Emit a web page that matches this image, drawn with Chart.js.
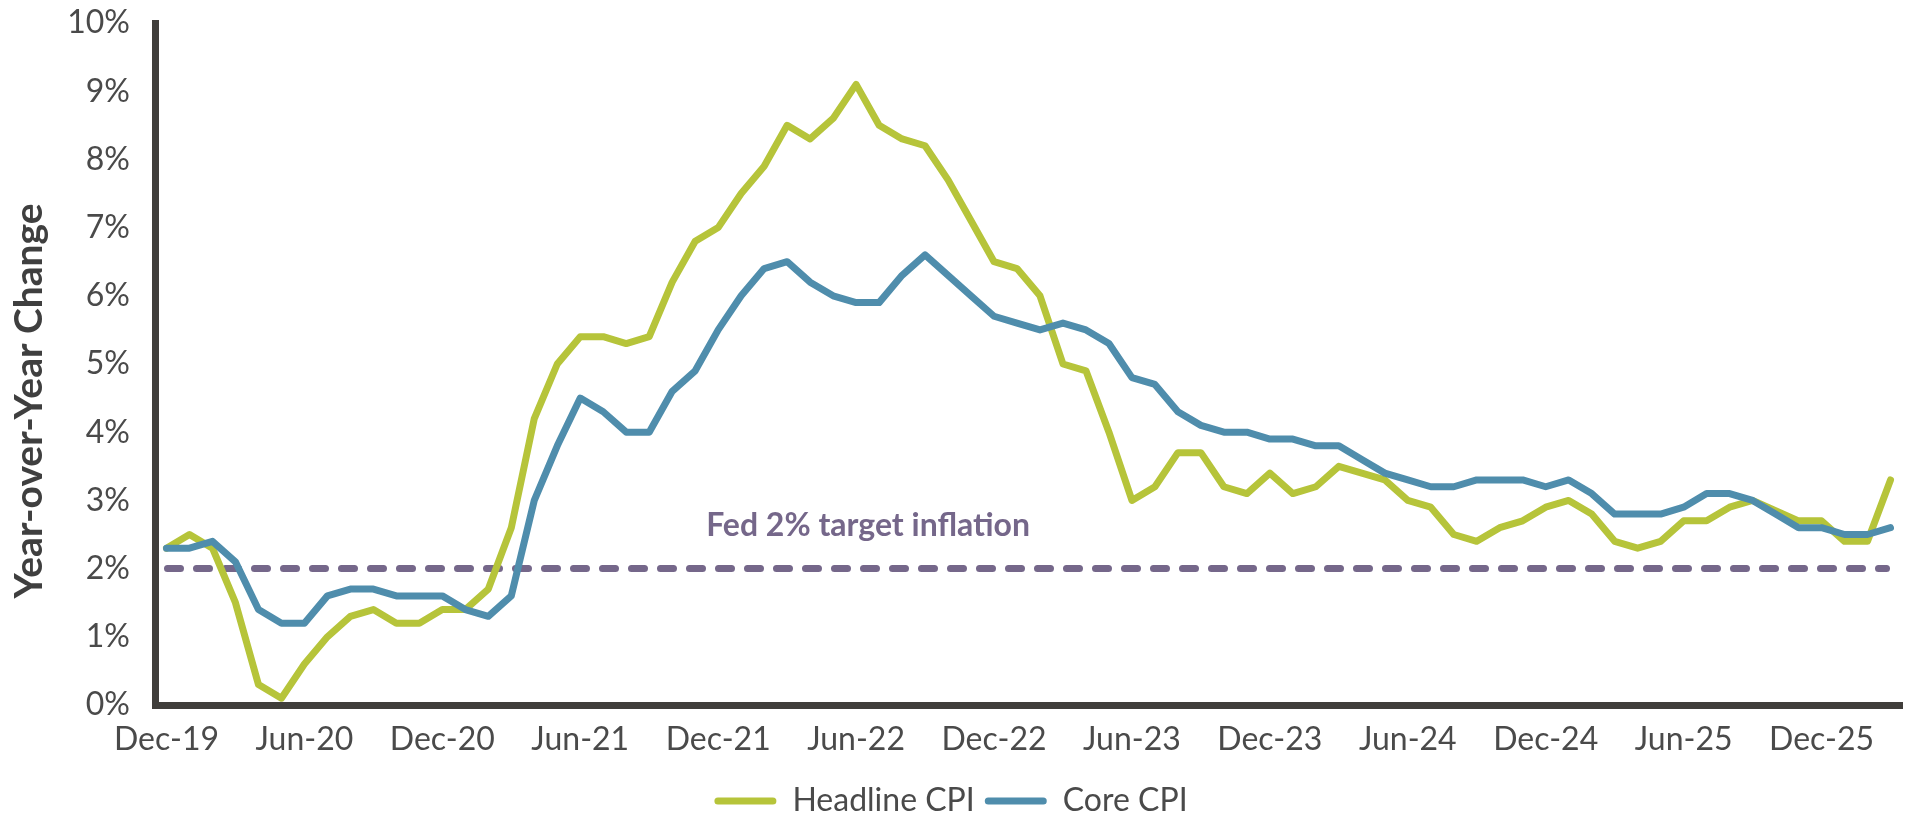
<!DOCTYPE html>
<html>
<head>
<meta charset="utf-8">
<title>Headline vs Core CPI</title>
<script src="https://cdn.jsdelivr.net/npm/chart.js@4.4.1/dist/chart.umd.min.js"></script>
<style>
  html, body { margin: 0; padding: 0; background: #fff; }
  #wrap { width: 1906px; height: 815px; }
</style>
</head>
<body>
<div id="wrap"><canvas id="cpiChart" width="1906" height="815"></canvas></div>
<script>
// monthly categories, Dec-19 through Mar-26
const months = [
  "Dec-19",
  "Jan-20", "Feb-20", "Mar-20", "Apr-20", "May-20", "Jun-20", "Jul-20", "Aug-20", "Sep-20", "Oct-20", "Nov-20", "Dec-20",
  "Jan-21", "Feb-21", "Mar-21", "Apr-21", "May-21", "Jun-21", "Jul-21", "Aug-21", "Sep-21", "Oct-21", "Nov-21", "Dec-21",
  "Jan-22", "Feb-22", "Mar-22", "Apr-22", "May-22", "Jun-22", "Jul-22", "Aug-22", "Sep-22", "Oct-22", "Nov-22", "Dec-22",
  "Jan-23", "Feb-23", "Mar-23", "Apr-23", "May-23", "Jun-23", "Jul-23", "Aug-23", "Sep-23", "Oct-23", "Nov-23", "Dec-23",
  "Jan-24", "Feb-24", "Mar-24", "Apr-24", "May-24", "Jun-24", "Jul-24", "Aug-24", "Sep-24", "Oct-24", "Nov-24", "Dec-24",
  "Jan-25", "Feb-25", "Mar-25", "Apr-25", "May-25", "Jun-25", "Jul-25", "Aug-25", "Sep-25", "Oct-25", "Nov-25", "Dec-25",
  "Jan-26", "Feb-26", "Mar-26"
];

const headlineCpi = [
  2.3,
  2.5, 2.3, 1.5, 0.3, 0.1, 0.6, 1.0, 1.3, 1.4, 1.2, 1.2, 1.4,
  1.4, 1.7, 2.6, 4.2, 5.0, 5.4, 5.4, 5.3, 5.4, 6.2, 6.8, 7.0,
  7.5, 7.9, 8.5, 8.3, 8.6, 9.1, 8.5, 8.3, 8.2, 7.7, 7.1, 6.5,
  6.4, 6.0, 5.0, 4.9, 4.0, 3.0, 3.2, 3.7, 3.7, 3.2, 3.1, 3.4,
  3.1, 3.2, 3.5, 3.4, 3.3, 3.0, 2.9, 2.5, 2.4, 2.6, 2.7, 2.9,
  3.0, 2.8, 2.4, 2.3, 2.4, 2.7, 2.7, 2.9, 3.0, 2.85, 2.7, 2.7,
  2.4, 2.4, 3.3
];

const coreCpi = [
  2.3,
  2.3, 2.4, 2.1, 1.4, 1.2, 1.2, 1.6, 1.7, 1.7, 1.6, 1.6, 1.6,
  1.4, 1.3, 1.6, 3.0, 3.8, 4.5, 4.3, 4.0, 4.0, 4.6, 4.9, 5.5,
  6.0, 6.4, 6.5, 6.2, 6.0, 5.9, 5.9, 6.3, 6.6, 6.3, 6.0, 5.7,
  5.6, 5.5, 5.6, 5.5, 5.3, 4.8, 4.7, 4.3, 4.1, 4.0, 4.0, 3.9,
  3.9, 3.8, 3.8, 3.6, 3.4, 3.3, 3.2, 3.2, 3.3, 3.3, 3.3, 3.2,
  3.3, 3.1, 2.8, 2.8, 2.8, 2.9, 3.1, 3.1, 3.0, 2.8, 2.6, 2.6,
  2.5, 2.5, 2.6
];

// only every sixth month gets a label on the x axis
const xTickLabels = [
  "Dec-19", "Jun-20", "Dec-20", "Jun-21", "Dec-21", "Jun-22", "Dec-22",
  "Jun-23", "Dec-23", "Jun-24", "Dec-24", "Jun-25", "Dec-25"
];

const fedTarget = 2;
const fedTargetText = "Fed 2% target inflation";
const fedTextAt = "Jun-22"; // category the annotation text sits over
const yTitle = "Year-over-Year Change";

const GREEN = "#b6c43a";
const BLUE = "#4f8dac";
const PURPLE = "#75678a";
const AXIS = "#403e3b";
const TEXT = "#4a4a4a";
const FONT = "Lato";

// dashed 2% line + its label, and the rotated y-axis title
const annotations = {
  id: "annotations",
  beforeDatasetsDraw(chart) {
    const { ctx, scales, chartArea } = chart;
    const yPix = scales.y.getPixelForValue(fedTarget);
    const x0 = scales.x.getPixelForValue(0);
    const x1 = scales.x.getPixelForValue(months.length - 1);

    ctx.save();
    ctx.strokeStyle = PURPLE;
    ctx.lineWidth = 7;
    ctx.lineCap = "round";
    ctx.setLineDash([13, 16]);
    ctx.beginPath();
    ctx.moveTo(x0 + 1, yPix);
    ctx.lineTo(x1 - 4, yPix);
    ctx.stroke();

    ctx.setLineDash([]);
    ctx.font = "bold 32px " + FONT;
    ctx.fillStyle = PURPLE;
    ctx.textAlign = "center";
    ctx.textBaseline = "alphabetic";
    ctx.fillText(fedTargetText, scales.x.getPixelForValue(months.indexOf(fedTextAt)) + 12, yPix - 33);

    // axis title, sitting a little below the middle of the plot like the original
    ctx.translate(29, (chartArea.top + chartArea.bottom) / 2 + 37);
    ctx.rotate(-Math.PI / 2);
    ctx.font = "bold 39px " + FONT;
    ctx.fillStyle = "#3f3f3f";
    ctx.textBaseline = "middle";
    ctx.fillText(yTitle, 0, 0);
    ctx.restore();
  },
};

function draw() {
  const ctx = document.getElementById("cpiChart").getContext("2d");

  new Chart(ctx, {
    type: "line",
    data: {
      labels: months,
      datasets: [
        {
          label: "Headline CPI",
          data: headlineCpi,
          borderColor: GREEN,
          backgroundColor: GREEN,
          borderWidth: 7,
          order: 2,
        },
        {
          label: "Core CPI",
          data: coreCpi,
          borderColor: BLUE,
          backgroundColor: BLUE,
          borderWidth: 7,
          order: 1,
        },
      ],
    },
    options: {
      responsive: false,
      animation: false,
      devicePixelRatio: 1,
      layout: { padding: { top: 23, right: 4, left: 0, bottom: -12 } },
      elements: {
        point: { radius: 0, hoverRadius: 0 },
        line: { tension: 0, borderCapStyle: "round", borderJoinStyle: "round" },
      },
      scales: {
        x: {
          offset: true,
          grid: { display: false, drawTicks: false, offset: true },
          border: { display: true, width: 7, color: AXIS },
          ticks: {
            autoSkip: false,
            maxRotation: 0,
            padding: 15,
            color: TEXT,
            font: { family: FONT, size: 32 },
            callback: function (value) {
              const lab = this.getLabelForValue(value);
              return xTickLabels.includes(lab) ? lab : "";
            },
          },
          afterFit(scale) {
            scale.height = 70;
          },
        },
        y: {
          min: 0,
          max: 10,
          grid: { display: false, drawTicks: false },
          border: { display: true, width: 7, color: AXIS },
          ticks: {
            stepSize: 1,
            padding: 25,
            color: TEXT,
            font: { family: FONT, size: 32 },
            callback: (v) => v + "%",
          },
          afterFit(scale) {
            scale.width = 155;
            scale.paddingTop = 0;
            scale.paddingBottom = 0;
          },
        },
      },
      plugins: {
        legend: {
          position: "bottom",
          labels: {
            boxWidth: 62,
            boxHeight: 7,
            padding: 10,
            useBorderRadius: true,
            borderRadius: 3.5,
            color: TEXT,
            font: { family: FONT, size: 32 },
            sort: (a, b) => a.datasetIndex - b.datasetIndex,
            generateLabels(chart) {
              return Chart.defaults.plugins.legend.labels
                .generateLabels(chart)
                .map((item) => ({ ...item, fillStyle: item.strokeStyle, lineWidth: 0 }));
            },
          },
        },
        tooltip: { enabled: false },
      },
    },
    plugins: [annotations],
  });
}

document.fonts.load("bold 32px " + FONT).then(draw, draw);
</script>
</body>
</html>
